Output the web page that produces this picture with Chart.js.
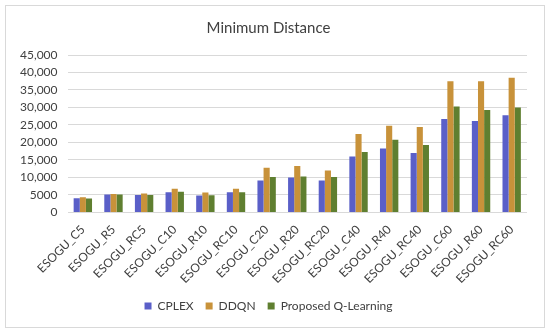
<!DOCTYPE html>
<html lang="en">

<head>
    <meta charset="UTF-8">
    <title>Minimum Distance</title>
    <script src="https://cdn.jsdelivr.net/npm/chart.js"></script>
    <style>
        body {
            margin: 0;
            background: #ffffff;
            font-family: Lato, sans-serif;
        }

        .frame {
            position: absolute;
            left: 5px;
            top: 5px;
            width: 538px;
            height: 321px;
            border: 1px solid #d9d9d9;
        }

        #wrap {
            position: absolute;
            left: 0;
            top: 0;
            width: 550px;
            height: 333px;
        }
    </style>
</head>

<body>
    <div class="frame"></div>
    <div id="wrap"><canvas id="grafico"></canvas></div>

    <script>
        const instancias = ['ESOGU_C5', 'ESOGU_R5', 'ESOGU_RC5', 'ESOGU_C10', 'ESOGU_R10', 'ESOGU_RC10',
            'ESOGU_C20', 'ESOGU_R20', 'ESOGU_RC20', 'ESOGU_C40', 'ESOGU_R40', 'ESOGU_RC40',
            'ESOGU_C60', 'ESOGU_R60', 'ESOGU_RC60'];
        const cplex = [4050, 5100, 5000, 5800, 4850, 5800, 9100, 9950, 9100, 16000, 18300, 17000, 26700, 26100, 27800];
        const ddqn = [4350, 5300, 5400, 6800, 5700, 6800, 12800, 13300, 12000, 22400, 24800, 24400, 37500, 37500, 38500];
        const qlearning = [4000, 5100, 5000, 5900, 4900, 5800, 10150, 10250, 10100, 17300, 20800, 19300, 30300, 29300, 30000];
        const yTicks = ['0', '5000', '10,000', '15,000', '20,000', '25,000', '30,000', '35,000', '40,000', '45,000'];

        const ctx = document.getElementById('grafico').getContext('2d');
        const myChart = new Chart(ctx, {
            type: 'bar',
            data: {
                labels: instancias,
                datasets: [{
                    label: 'CPLEX',
                    data: cplex,
                    backgroundColor: '#5a5fc8'
                }, {
                    label: 'DDQN',
                    data: ddqn,
                    backgroundColor: '#c8923a'
                }, {
                    label: 'Proposed Q-Learning',
                    data: qlearning,
                    backgroundColor: '#5f7f30'
                }]
            },
            options: {
                responsive: true,
                maintainAspectRatio: false,
                animation: false,
                datasets: {
                    bar: {
                        categoryPercentage: 0.6,
                        barPercentage: 1.0
                    }
                },
                layout: {
                    padding: { left: 10, right: 23, top: 19, bottom: 11 }
                },
                plugins: {
                    title: {
                        display: true,
                        text: 'Minimum Distance',
                        color: '#404040',
                        font: { family: 'Lato', size: 15, weight: 'normal' },
                        padding: { top: 0, bottom: 18 }
                    },
                    legend: {
                        position: 'bottom',
                        labels: {
                            boxWidth: 7,
                            boxHeight: 7,
                            color: '#404040',
                            font: { family: 'Lato', size: 12 },
                            padding: 12
                        }
                    },
                    tooltip: { enabled: false }
                },
                scales: {
                    x: {
                        grid: { display: false },
                        border: { display: false },
                        ticks: {
                            autoSkip: false,
                            minRotation: 45,
                            maxRotation: 45,
                            color: '#404040',
                            font: { family: 'Lato', size: 12 },
                            padding: 2
                        }
                    },
                    y: {
                        min: 0,
                        max: 45000,
                        grid: { color: '#d9d9d9', drawTicks: false },
                        border: { display: false },
                        ticks: {
                            autoSkip: false,
                            stepSize: 5000,
                            color: '#404040',
                            font: { family: 'Lato', size: 12 },
                            padding: 10,
                            callback: (v, i) => yTicks[i]
                        }
                    }
                }
            }
        });
    </script>
</body>

</html>
